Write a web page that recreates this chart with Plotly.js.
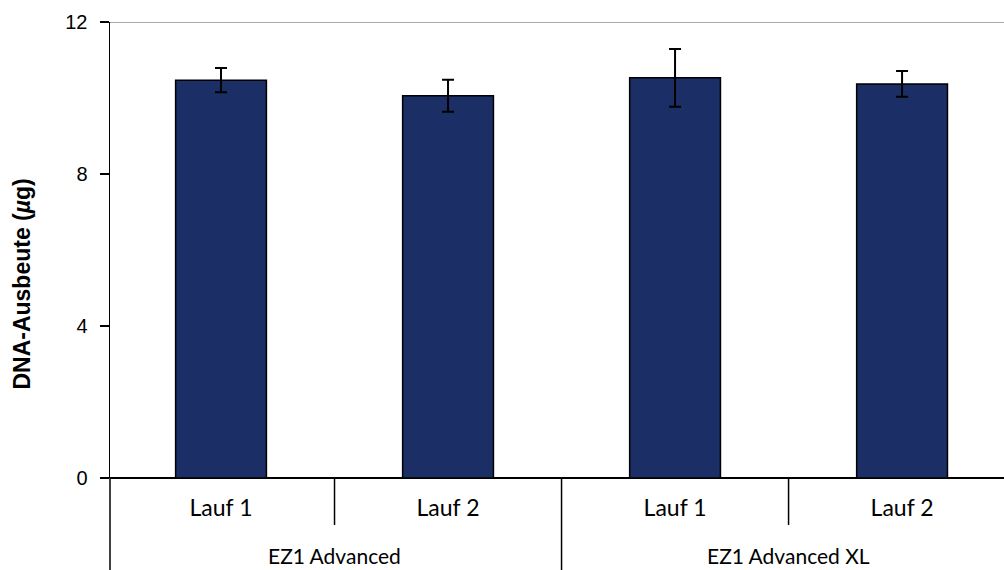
<!DOCTYPE html>
<html>
<head>
<meta charset="utf-8">
<script src="https://cdn.plot.ly/plotly-3.0.1.min.js"></script>
<style>html,body{margin:0;padding:0;background:#fff;overflow:hidden;}#chart{width:1004px;height:570px;}</style>
</head>
<body>
<div id="chart"></div>
<script>
// Data
const runs = ["Lauf 1", "Lauf 2", "Lauf 1", "Lauf 2"];
const groups = ["EZ1 Advanced", "EZ1 Advanced", "EZ1 Advanced XL", "EZ1 Advanced XL"];
const yieldValues = [10.47, 10.06, 10.53, 10.37];
const yieldErrors = [0.32, 0.42, 0.76, 0.34];
const yTicks = [0, 4, 8, 12];

const idx = runs.map((_, i) => i);

const trace = {
  type: 'bar',
  x: idx,
  y: yieldValues,
  width: 0.4,
  marker: {color: '#1b2f66', line: {color: '#000000', width: 1.5}},
  error_y: {type: 'data', array: yieldErrors, visible: true, color: '#000000', thickness: 2, width: 6},
  hoverinfo: 'y'
};

// group layout
const uniqueGroups = [...new Set(groups)];
const groupAnn = uniqueGroups.map(g => {
  const ids = idx.filter(i => groups[i] === g);
  const mid = (Math.min(...ids) + Math.max(...ids)) / 2;
  return {x: mid, xref: 'x', y: -0.171, yref: 'paper', text: g, showarrow: false,
          xanchor: 'center', yanchor: 'middle',
          font: {family: 'Lato, sans-serif', size: 21, color: '#000'}};
});

const shapes = [];
// separators between categories
for (let i = 0; i < idx.length - 1; i++) {
  const groupBoundary = groups[i] !== groups[i + 1];
  shapes.push({type: 'line', xref: 'x', yref: 'paper', x0: i + 0.5, x1: i + 0.5,
    y0: 0, y1: groupBoundary ? -0.21 : -0.103, line: {color: '#000', width: 1.5}});
}
// extend y-axis line down
shapes.push({type: 'line', xref: 'paper', yref: 'paper', x0: 0, x1: 0, y0: 0, y1: -0.21,
  line: {color: '#000', width: 1.5}});
// top border line
shapes.push({type: 'line', xref: 'paper', yref: 'y', x0: 0, x1: 1, y0: yTicks[yTicks.length - 1], y1: yTicks[yTicks.length - 1],
  line: {color: '#a8a8a8', width: 2}, layer: 'below'});

const layout = {
  width: 1004, height: 570,
  margin: {l: 110, r: 0, t: 22, b: 92},
  paper_bgcolor: '#fff', plot_bgcolor: '#fff',
  showlegend: false,
  xaxis: {
    range: [-0.489, 3.449],
    tickmode: 'array', tickvals: idx, ticktext: runs,
    ticks: '', showgrid: false, zeroline: false,
    showline: false,
    tickfont: {family: 'Lato, sans-serif', size: 23, color: '#000'},
    ticklabelstandoff: 14,
    fixedrange: true
  },
  yaxis: {
    range: [0, 12],
    tickmode: 'array', tickvals: yTicks,
    ticks: 'outside', ticklen: 9, tickwidth: 1.5, tickcolor: '#000',
    showline: true, linecolor: '#000', linewidth: 1.5,
    showgrid: false, zeroline: true, zerolinecolor: '#000', zerolinewidth: 1.5,
    tickfont: {family: 'Liberation Sans, Arial, sans-serif', size: 20, color: '#000'},
    ticklabelstandoff: 8,
    fixedrange: true
  },
  shapes: shapes,
  annotations: groupAnn.concat([{
    xref: 'paper', yref: 'paper', x: -0.098, y: 0.425,
    text: '<b>DNA-Ausbeute (<i>µ</i>g)</b>', textangle: -90, showarrow: false,
    xanchor: 'center', yanchor: 'middle',
    font: {family: 'Liberation Sans, Arial, sans-serif', size: 23, color: '#000'}
  }])
};

Plotly.newPlot('chart', [trace], layout, {displayModeBar: false, staticPlot: true});
</script>
</body>
</html>
